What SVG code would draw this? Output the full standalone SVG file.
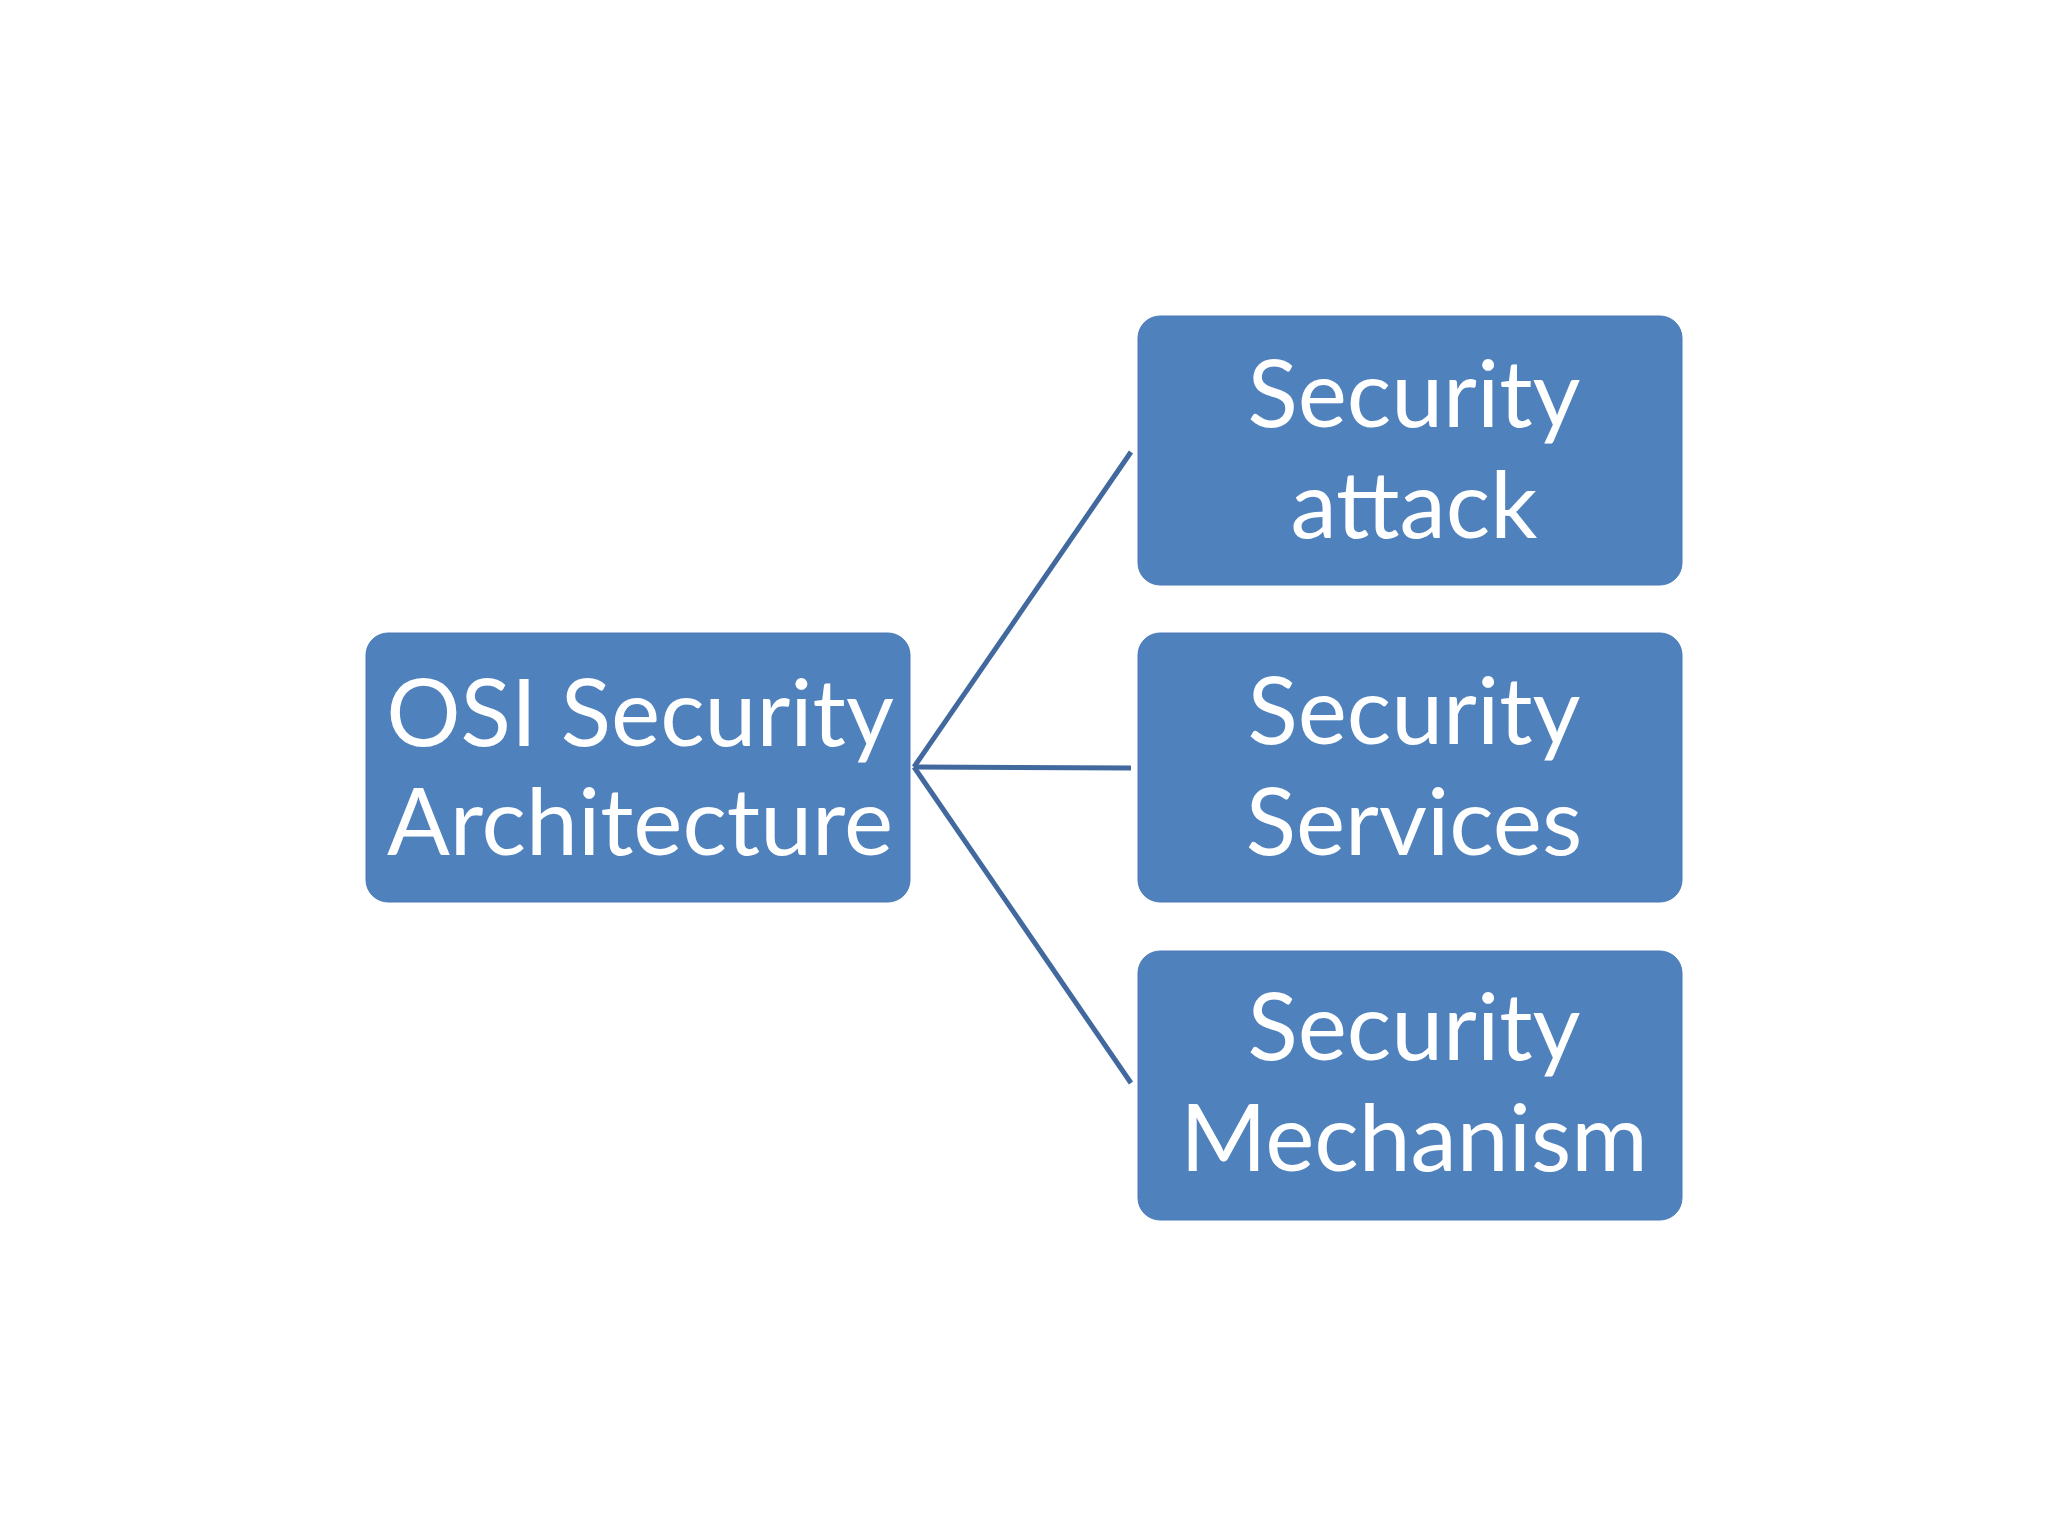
<svg xmlns="http://www.w3.org/2000/svg" width="2048" height="1536" viewBox="0 0 2048 1536">
<style>
.box{fill:#4F81BD;stroke:#4A7BB7;stroke-width:1}
.lbl{font-family:Lato,"Open Sans","Liberation Sans",sans-serif;font-size:93px;fill:#FFFFFF;text-anchor:middle}
.conn{stroke:#41699E;stroke-width:5;fill:none}
</style>
<rect width="2048" height="1536" fill="#FFFFFF"/>
<g id="connectors">
<line class="conn" x1="914" y1="767" x2="1131" y2="452"/>
<line class="conn" x1="914" y1="767" x2="1131" y2="768"/>
<line class="conn" x1="914" y1="767" x2="1131" y2="1083"/>
</g>
<g id="osi">
<rect class="box" x="366" y="633" width="544" height="269" rx="22"/>
<text class="lbl" x="640" y="746">OSI Security</text>
<text class="lbl" x="640" y="855">Architecture</text>
</g>
<g id="attack">
<rect class="box" x="1138" y="316" width="544" height="269" rx="22"/>
<text class="lbl" x="1414" y="427">Security</text>
<text class="lbl" x="1414" y="538">attack</text>
</g>
<g id="services">
<rect class="box" x="1138" y="633" width="544" height="269" rx="22"/>
<text class="lbl" x="1414" y="744">Security</text>
<text class="lbl" x="1414" y="855">Services</text>
</g>
<g id="mechanism">
<rect class="box" x="1138" y="951" width="544" height="269" rx="22"/>
<text class="lbl" x="1414" y="1060">Security</text>
<text class="lbl" x="1414" y="1171">Mechanism</text>
</g>
</svg>
